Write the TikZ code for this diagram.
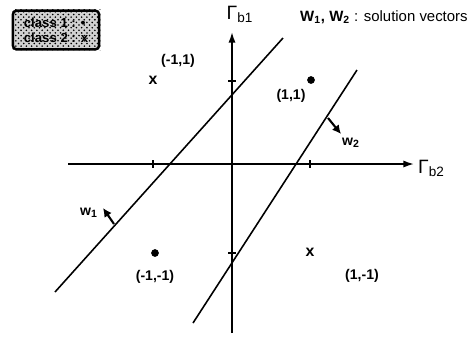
\documentclass[tikz,border=0pt]{standalone}
\usepackage{fontspec}
\setmainfont{Liberation Sans}
\usetikzlibrary{arrows.meta,patterns}

\begin{document}
\begin{tikzpicture}[x=0.02cm, y=-0.02cm,
  axis/.style={-{Latex[length=6pt,width=4pt]}, line width=0.9pt},
  bound/.style={line width=0.9pt},
  wvec/.style={-{Latex[length=5pt,width=5pt]}, line width=1.2pt},
  lbl/.style={font=\bfseries\fontsize{8}{9}\selectfont, inner sep=1pt},
  wlbl/.style={font=\bfseries\fontsize{8}{9}\selectfont, inner sep=1pt},
  dot/.style={circle, fill, inner sep=0pt, minimum size=4.4pt},
  cross/.style={font=\bfseries\fontsize{9}{10}\selectfont, inner sep=0pt},
  gam/.style={font=\fontsize{11}{12}\selectfont, inner sep=1pt}
]
\useasboundingbox (0,0) rectangle (470,336);

% legend
\node[draw, line width=1.4pt, rounded corners=2pt, fill=gray!35,
  minimum width=49pt, minimum height=22pt] (legend) at (56,30) {};
\fill[pattern=crosshatch dots] (legend.south west) rectangle (legend.north east);
\node[font=\bfseries\fontsize{7.5}{8.5}\selectfont, align=left] (legtxt) at (legend)
  {class 1 : •\\class 2 : x};
\node[font=\fontsize{8.5}{10}\selectfont, anchor=east, inner sep=0pt] (title) at (468,17)
  {\textbf{W\textsubscript{1}, W\textsubscript{2}} : solution vectors};

% axes
\coordinate (xl) at (68,164);
\coordinate (xr) at (414,164);
\coordinate (yb) at (232,333);
\coordinate (yt) at (232,32);
\draw[axis] (xl) -- (xr);
\draw[axis] (yb) -- (yt);
\node[gam, anchor=west] (gb2) at (416,168) {Γ\textsubscript{b2}};
\node[gam] (gb1) at (240,14) {Γ\textsubscript{b1}};
\foreach \t in {153,310}
  \draw[line width=0.9pt] (\t,160) -- (\t,168);
\foreach \t in {81,253}
  \draw[line width=0.9pt] (228,\t) -- (236,\t);

% decision lines
\coordinate (a1) at (55,292);
\coordinate (a2) at (283,38);
\coordinate (b1) at (193,323);
\coordinate (b2) at (357,70);
\draw[bound] (a1) -- (a2);
\draw[bound] (b1) -- (b2);

% solution vectors
\coordinate (w1s) at (114,224);
\coordinate (w1e) at (103,208);
\draw[wvec] (w1s) -- (w1e);
\node[wlbl] (w1) at (89,213) {w\textsubscript{1}};
\coordinate (w2s) at (328,118);
\coordinate (w2e) at (341,134);
\draw[wvec] (w2s) -- (w2e);
\node[wlbl] (w2) at (351,143) {w\textsubscript{2}};

% patterns
\node[cross] (pmp) at (153,80) {x};
\node[lbl] (lmp) at (178,61) {(-1,1)};
\node[dot] (ppp) at (311,80) {};
\node[lbl] (lpp) at (291,96) {(1,1)};
\node[dot] (pmm) at (155,253) {};
\node[lbl] (lmm) at (155,277) {(-1,-1)};
\node[cross] (ppm) at (310,252) {x};
\node[lbl] (lpm) at (362,276) {(1,-1)};
\end{tikzpicture}
\end{document}
